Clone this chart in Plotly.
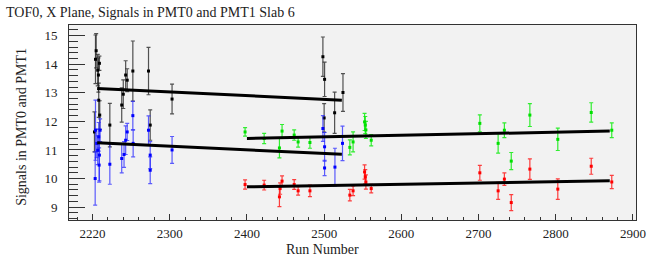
import plotly.graph_objects as go

# ---------------- data ----------------
black_run = [2203.8, 2204.7, 2202.5, 2206.7, 2207.6, 2208.9, 2208.0, 2209.3, 2222.4, 2237.8, 2239.8,
             2242.9, 2244.9, 2252.2, 2272.5, 2274.7, 2303.0, 2498.4, 2500.6, 2500.0, 2513.6, 2524.4]
black_val = [14.17, 14.47, 11.63, 13.79, 13.62, 14.03, 12.74, 12.22, 11.87, 12.57, 12.95,
             13.62, 13.44, 13.76, 13.76, 11.87, 12.78, 14.26, 13.47, 12.12, 12.30, 13.01]
black_err = [0.85, 0.60, 0.70, 0.55, 0.60, 0.25, 0.60, 0.50, 0.76, 0.60, 0.50,
             0.50, 0.40, 1.05, 0.83, 0.53, 0.52, 0.69, 0.60, 0.50, 0.72, 0.66]

blue_run = [2203.4, 2203.8, 2205.5, 2206.7, 2208.0, 2208.9, 2209.8, 2208.5, 2222.4, 2237.8, 2240.8, 2242.9,
            2244.9, 2252.2, 2252.6, 2272.5, 2274.7, 2274.7, 2303.0, 2498.4, 2500.6, 2500.6, 2514.0, 2523.8]
blue_val = [10.00, 11.69, 11.23, 10.99, 11.46, 10.82, 11.69, 10.47, 10.50, 10.70, 10.84, 11.34,
            11.63, 12.20, 11.23, 11.69, 10.82, 10.29, 11.00, 11.75, 11.11, 10.37, 10.40, 11.23]
blue_err = [0.93, 1.05, 0.50, 0.50, 0.50, 0.90, 0.40, 0.60, 0.70, 0.50, 0.45, 0.50,
            0.30, 0.50, 0.47, 0.50, 0.47, 0.47, 0.47, 0.45, 0.50, 0.27, 0.66, 0.60]

green_run = [2397.6, 2422.3, 2442.1, 2445.5, 2461.2, 2466.3, 2481.6, 2533.3, 2537.5, 2552.4, 2553.3,
             2554.1, 2561.0, 2701.7, 2725.4, 2733.5, 2742.4, 2766.5, 2802.7, 2846.0, 2872.6]
green_val = [11.63, 11.40, 11.07, 11.66, 11.52, 11.28, 11.26, 11.09, 11.28, 11.98, 11.87,
             11.70, 11.34, 11.93, 11.23, 11.69, 10.61, 12.22, 11.37, 12.31, 11.69]
green_err = [0.15, 0.18, 0.35, 0.23, 0.18, 0.18, 0.20, 0.26, 0.35, 0.30, 0.30,
             0.30, 0.20, 0.30, 0.34, 0.26, 0.30, 0.40, 0.39, 0.34, 0.26]

red_run = [2397.6, 2422.3, 2442.1, 2443.0, 2445.5, 2461.2, 2466.3, 2481.6, 2533.3, 2537.5, 2552.4,
           2553.3, 2554.1, 2561.0, 2701.7, 2725.4, 2733.5, 2742.4, 2766.5, 2802.7, 2846.0, 2872.6]
red_val = [9.79, 9.77, 9.36, 9.65, 9.91, 9.79, 9.57, 9.57, 9.42, 9.57, 10.23,
           10.06, 9.88, 9.65, 10.20, 9.57, 9.98, 9.16, 10.33, 9.63, 10.43, 9.88]
red_err = [0.16, 0.17, 0.34, 0.20, 0.18, 0.17, 0.15, 0.20, 0.20, 0.17, 0.25,
           0.25, 0.25, 0.15, 0.26, 0.30, 0.22, 0.28, 0.36, 0.36, 0.28, 0.23]

# fitted straight lines (end points)
fit_black_x = [2206, 2523]
fit_black_y = [13.15, 12.74]
fit_blue_x = [2206, 2523]
fit_blue_y = [11.25, 10.85]
fit_green_x = [2400, 2870]
fit_green_y = [11.40, 11.66]
fit_red_x = [2400, 2870]
fit_red_y = [9.71, 9.92]

x_tick_vals = [2200, 2300, 2400, 2500, 2600, 2700, 2800, 2900]
x_tick_text = ["2220", "2300", "2400", "2500", "2600", "2700", "2800", "2900"]
y_tick_vals = [9, 10, 11, 12, 13, 14, 15]

title_text = "TOF0, X Plane, Signals in PMT0 and PMT1 Slab 6"
x_title = "Run Number"
y_title = "Signals in PMT0 and PMT1"

# ---------------- figure ----------------
FONT = "Liberation Serif, Times New Roman, serif"
fig = go.Figure()

def add_series(xs, ys, es, color, errcolor):
    fig.add_trace(go.Scatter(
        x=xs, y=ys, mode="markers",
        marker=dict(symbol="square", size=3, color=color),
        error_y=dict(type="data", array=es, visible=True, color=errcolor, thickness=1.2, width=2),
        showlegend=False, hoverinfo="skip"))

add_series(black_run, black_val, black_err, "#000000", "rgba(40,40,40,0.8)")
add_series(blue_run, blue_val, blue_err, "#0000ff", "rgba(40,40,255,0.75)")
add_series(green_run, green_val, green_err, "#00e000", "rgba(0,235,0,0.8)")
add_series(red_run, red_val, red_err, "#ff0000", "rgba(255,0,0,0.75)")

for fx, fy in [(fit_black_x, fit_black_y), (fit_blue_x, fit_blue_y),
               (fit_green_x, fit_green_y), (fit_red_x, fit_red_y)]:
    fig.add_trace(go.Scatter(x=fx, y=fy, mode="lines",
                             line=dict(color="#000000", width=3),
                             showlegend=False, hoverinfo="skip"))

fig.update_layout(
    width=648, height=257,
    margin=dict(l=69, r=2, t=25, b=37),
    paper_bgcolor="#ffffff",
    plot_bgcolor="#f2f2f2",
    font=dict(family=FONT, size=13, color="#222222"),
    title=dict(text=title_text, x=6 / 648, xanchor="left", xref="container",
               y=1 - 12 / 257, yanchor="middle", yref="container",
               font=dict(family=FONT, size=14, color="#222222")),
    showlegend=False,
)

fig.update_xaxes(
    range=[2169.5, 2904], showgrid=False, zeroline=False,
    showline=True, linecolor="#333333", linewidth=1, mirror=True,
    tickmode="array", tickvals=x_tick_vals, ticktext=x_tick_text,
    ticks="inside", ticklen=6, tickcolor="#333333",
    minor=dict(ticks="inside", ticklen=3, dtick=20, tickcolor="#333333", showgrid=False),
    tickfont=dict(family=FONT, size=13, color="#222222"),
    ticklabelstandoff=1, ticklabeloverflow="allow",
)
fig.update_yaxes(
    range=[8.55, 15.37], showgrid=False, zeroline=False,
    showline=True, linecolor="#333333", linewidth=1, mirror=True,
    tickmode="array", tickvals=y_tick_vals,
    ticks="inside", ticklen=16, tickcolor="#333333",
    minor=dict(ticks="inside", ticklen=9, dtick=0.2, tickcolor="#333333", showgrid=False),
    tickfont=dict(family=FONT, size=13, color="#222222"),
    ticklabelstandoff=8,
)

fig.add_annotation(text=x_title, xref="paper", yref="paper",
                   x=(327 - 69) / 577, y=(220 - 250) / 195,
                   xanchor="center", yanchor="middle", showarrow=False,
                   font=dict(family=FONT, size=14, color="#222222"))
fig.add_annotation(text=y_title, xref="paper", yref="paper",
                   x=(21 - 69) / 577, y=(220 - 127) / 195, textangle=-90,
                   xanchor="center", yanchor="middle", showarrow=False,
                   font=dict(family=FONT, size=14, color="#222222"))

fig.write_html("out.html", config={"displayModeBar": False},
               post_script="document.body.style.margin='0px';document.body.style.padding='0px';")
